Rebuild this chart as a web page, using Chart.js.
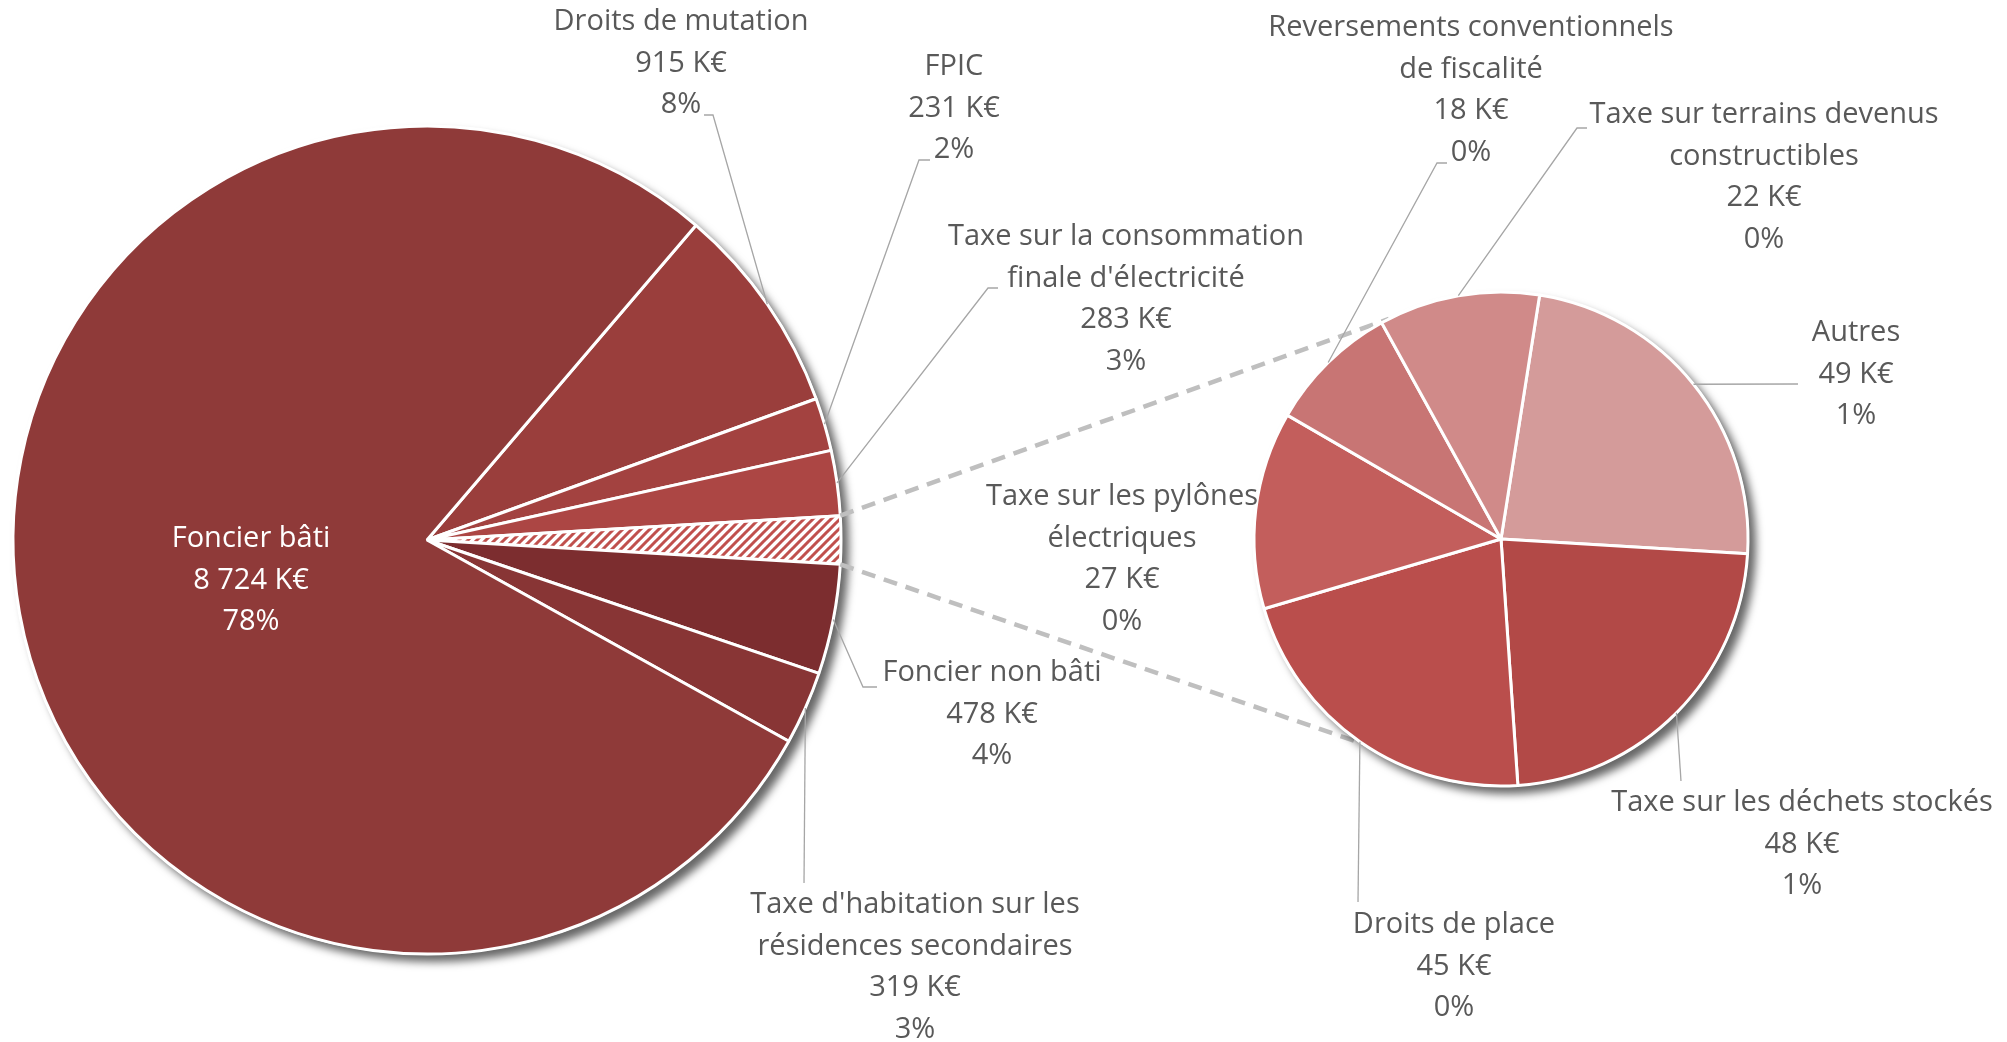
<!DOCTYPE html>
<html>
<head>
<meta charset="utf-8">
<script src="https://cdn.jsdelivr.net/npm/chart.js@4.4.1/dist/chart.umd.min.js"></script>
<style>
  html, body { margin: 0; padding: 0; background: #fff; }
  .wrap { position: absolute; left: 0; top: 0; width: 2007px; height: 1042px; }
</style>
</head>
<body>
<div class="wrap"><canvas id="mainPie" width="2007" height="1042"></canvas></div>
<div class="wrap"><canvas id="otherPie" width="2007" height="1042"></canvas></div>
<script>
// second pie = detail of the hatched slice (clockwise from the top)
const otherLabels = ["Autres", "Taxe sur les déchets stockés", "Droits de place", "Taxe sur les pylônes\nélectriques", "Reversements conventionnels\nde fiscalité", "Taxe sur terrains devenus\nconstructibles"];
const otherValues = [49, 48, 45, 27, 18, 22];
const otherPct = ["1%", "1%", "0%", "0%", "0%", "0%"];

// main pie (clockwise from the upper right), index 3 is the "other" slice
const mainLabels = ["Droits de mutation", "FPIC", "Taxe sur la consommation\nfinale d'électricité", "Autres", "Foncier non bâti", "Taxe d'habitation sur les\nrésidences secondaires", "Foncier bâti"];
const mainValues = [915, 231, 283, 0, 478, 319, 8724];
const mainPct = ["8%", "2%", "3%", "", "4%", "3%", "78%"];
const otherIndex = 3;
mainValues[otherIndex] = otherValues.reduce((a, b) => a + b, 0);

const mainColors = ["#9A3E3C", "#A34240", "#AC4644", null, "#7C2D2F", "#883535", "#8F3A39"];
const otherColors = ["#D49B9A", "#B24947", "#BA4E4C", "#C35E5C", "#C87574", "#D08A89"];

// label layout (text centre x, first line y) and leader line points
const mainLabelPos = [[681, 22], [954, 67], [1126, 237], null, [992, 673], [915, 905], [251, 539]];
const mainLeaders = [[[713, 115], [704, 115]], [[919, 160], [930, 160]], [[988, 288], [998, 288]], null, [[863, 687], [877, 687]], [[804, 883]], null];
const otherLabelPos = [[1856, 333], [1802, 803], [1454, 925], [1122, 497], [1471, 28], [1764, 115]];
const otherLeaders = [[[1798, 384]], [[1681, 781]], [[1358, 902]], null, [[1437, 163], [1447, 163]], [[1577, 128], [1587, 128]]];

function fmt(v) {
  return String(v).replace(/\B(?=(\d{3})+(?!\d))/g, ' ') + ' K€';
}

function hatch() {
  const c = document.createElement('canvas');
  c.width = 9; c.height = 9;
  const g = c.getContext('2d');
  g.fillStyle = '#fff';
  g.fillRect(0, 0, 9, 9);
  g.strokeStyle = '#C0504D';
  g.lineWidth = 3;
  g.beginPath();
  g.moveTo(-1, 10); g.lineTo(10, -1);
  g.moveTo(-1, 1); g.lineTo(1, -1);
  g.moveTo(8, 10); g.lineTo(10, 8);
  g.stroke();
  return g.createPattern(c, 'repeat');
}
mainColors[otherIndex] = hatch();

const shadowPlugin = {
  id: 'pieShadow',
  beforeDatasetsDraw(chart) {
    const arc = chart.getDatasetMeta(0).data[0];
    const ctx = chart.ctx;
    ctx.save();
    ctx.shadowColor = 'rgba(0,0,0,0.6)';
    ctx.shadowBlur = 9;
    ctx.shadowOffsetX = 7;
    ctx.shadowOffsetY = 7;
    ctx.fillStyle = '#fff';
    ctx.beginPath();
    ctx.arc(arc.x, arc.y, arc.outerRadius + 1, 0, Math.PI * 2);
    ctx.fill();
    ctx.restore();
  }
};

function labelPlugin(pos, leaders, pct, colors) {
  return {
    id: 'sliceLabels',
    afterDatasetsDraw(chart) {
      const ctx = chart.ctx;
      const ds = chart.data.datasets[0];
      ctx.save();
      ctx.font = '29px "Open Sans"';
      ctx.textAlign = 'center';
      ctx.textBaseline = 'middle';
      chart.getDatasetMeta(0).data.forEach((arc, i) => {
        if (!pos[i]) return;
        if (leaders[i]) {
          const mid = (arc.startAngle + arc.endAngle) / 2;
          ctx.strokeStyle = '#A6A6A6';
          ctx.lineWidth = 1.3;
          ctx.beginPath();
          ctx.moveTo(arc.x + Math.cos(mid) * arc.outerRadius, arc.y + Math.sin(mid) * arc.outerRadius);
          leaders[i].forEach(p => ctx.lineTo(p[0], p[1]));
          ctx.stroke();
        }
        const lines = chart.data.labels[i].split('\n').concat([fmt(ds.data[i]), pct[i]]);
        ctx.fillStyle = colors[i];
        lines.forEach((t, k) => ctx.fillText(t, pos[i][0], pos[i][1] + k * 41.6));
      });
      ctx.restore();
    }
  };
}

// where the dashed connectors meet the second pie (degrees, canvas convention)
const connectAngles = [-117, 124];

const total = mainValues.reduce((a, b) => a + b, 0);
const before = mainValues.slice(0, otherIndex).reduce((a, b) => a + b, 0) + mainValues[otherIndex] / 2;
const mainRotation = 90 - before / total * 360;

const mainChart = new Chart(document.getElementById('mainPie'), {
  type: 'pie',
  data: {
    labels: mainLabels,
    datasets: [{
      data: mainValues,
      backgroundColor: mainColors,
      borderColor: '#fff',
      borderWidth: 3
    }]
  },
  options: {
    responsive: false,
    animation: false,
    events: [],
    rotation: mainRotation,
    radius: 414,
    layout: { padding: { left: 13, right: 1166, top: 126, bottom: 88 } },
    plugins: { legend: { display: false }, tooltip: { enabled: false } }
  },
  plugins: [shadowPlugin, labelPlugin(mainLabelPos, mainLeaders, mainPct,
    mainLabels.map((l, i) => i === mainLabels.length - 1 ? '#fff' : '#595959'))]
});

const connectorPlugin = {
  id: 'connectors',
  beforeDatasetsDraw(chart) {
    const big = mainChart.getDatasetMeta(0).data[otherIndex];
    const small = chart.getDatasetMeta(0).data[0];
    const starts = [big.startAngle, big.endAngle];
    const ctx = chart.ctx;
    ctx.save();
    ctx.strokeStyle = '#BFBFBF';
    ctx.lineWidth = 4.5;
    ctx.setLineDash([14, 9]);
    starts.forEach((a, k) => {
      const b = connectAngles[k] * Math.PI / 180;
      ctx.beginPath();
      ctx.moveTo(big.x + Math.cos(a) * big.outerRadius, big.y + Math.sin(a) * big.outerRadius);
      ctx.lineTo(small.x + Math.cos(b) * small.outerRadius, small.y + Math.sin(b) * small.outerRadius);
      ctx.stroke();
    });
    ctx.restore();
  }
};

new Chart(document.getElementById('otherPie'), {
  type: 'pie',
  data: {
    labels: otherLabels,
    datasets: [{
      data: otherValues,
      backgroundColor: otherColors,
      borderColor: '#fff',
      borderWidth: 3
    }]
  },
  options: {
    responsive: false,
    animation: false,
    events: [],
    rotation: 9,
    radius: 247,
    layout: { padding: { left: 1254, right: 259, top: 292, bottom: 256 } },
    plugins: { legend: { display: false }, tooltip: { enabled: false } }
  },
  plugins: [connectorPlugin, shadowPlugin, labelPlugin(otherLabelPos, otherLeaders, otherPct, otherLabels.map(() => '#595959'))]
});
</script>
</body>
</html>
